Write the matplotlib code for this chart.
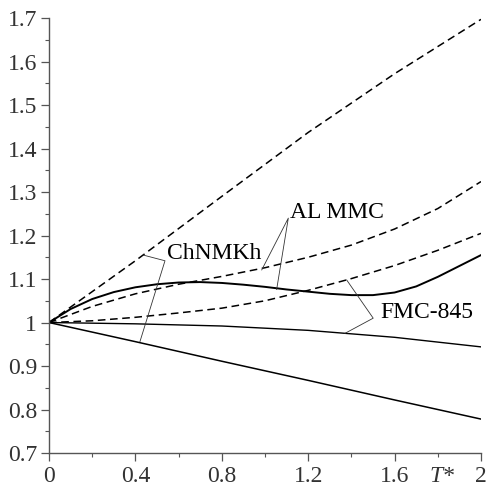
import matplotlib
matplotlib.use("Agg")
import matplotlib.pyplot as plt
from matplotlib.ticker import MultipleLocator

FONT = "Liberation Serif"
plt.rcParams["font.family"] = [FONT, "DejaVu Serif"]

# horni carkovana (ChNMKh)
x_top = [0, 0.4, 0.8, 1.2, 1.6, 2.0]
y_top = [1.0, 1.142, 1.290, 1.437, 1.572, 1.697]

# druha carkovana (AL MMC)
x_d = [0, 0.2, 0.4, 0.6, 0.8, 1.0, 1.2, 1.4, 1.6, 1.8, 2.0]
y_al = [1.0, 1.037, 1.066, 1.088, 1.106, 1.126, 1.150, 1.178, 1.215, 1.262, 1.324]
# treti carkovana (FMC-845)
y_fmc = [1.0, 1.004, 1.012, 1.022, 1.033, 1.050, 1.074, 1.101, 1.131, 1.166, 1.205]

# plna krivka s hrbolem (AL MMC)
x_s = [0, 0.1, 0.2, 0.3, 0.4, 0.5, 0.6, 0.7, 0.8, 0.9, 1.0,
       1.1, 1.2, 1.3, 1.4, 1.5, 1.6, 1.7, 1.8, 1.9, 2.0]
y_bump = [1.0, 1.031, 1.054, 1.070, 1.081, 1.088, 1.092, 1.093, 1.091, 1.087, 1.082,
          1.076, 1.071, 1.066, 1.063, 1.063, 1.069, 1.083, 1.105, 1.130, 1.155]

# tenka plna (FMC-845)
x_thin = [0, 0.4, 0.8, 1.2, 1.6, 2.0]
y_thin = [1.0, 0.997, 0.992, 0.982, 0.966, 0.944]

# spodni plna (ChNMKh)
x_low = [0, 0.4, 0.8, 1.2, 1.6, 2.0]
y_low = [1.0, 0.956, 0.911, 0.867, 0.822, 0.778]

xticks = [0, 0.4, 0.8, 1.2, 1.6, 2.0]
xlabels = ["0", "0.4", "0.8", "1.2", "1.6", "2"]
yticks = [0.7, 0.8, 0.9, 1.0, 1.1, 1.2, 1.3, 1.4, 1.5, 1.6, 1.7]
ylabels = ["0.7", "0.8", "0.9", "1", "1.1", "1.2", "1.3", "1.4", "1.5", "1.6", "1.7"]

fig = plt.figure(figsize=(4.89, 4.88), dpi=100)
ax = fig.add_axes([0.1002, 0.0717, 0.8834, 0.8913])

dash = (0, (5, 3))
ax.plot(x_top, y_top, color="black", lw=1.1, linestyle=dash)
ax.plot(x_d, y_al, color="black", lw=1.1, linestyle=dash)
ax.plot(x_d, y_fmc, color="black", lw=1.1, linestyle=dash)
ax.plot(x_s, y_bump, color="black", lw=1.4)
ax.plot(x_thin, y_thin, color="black", lw=1.0)
ax.plot(x_low, y_low, color="black", lw=1.1)

# odkazove cary k popiskum
lc = "#333333"
ax.plot([0.437, 0.537, 0.421], [1.155, 1.142, 0.956], color=lc, lw=0.6)
ax.plot([0.985, 1.108, 1.054], [1.121, 1.240, 1.076], color=lc, lw=0.6)
ax.plot([1.378, 1.501, 1.370], [1.098, 1.010, 0.975], color=lc, lw=0.6)

ax.text(0.545, 1.159, "ChNMKh", fontsize=17, va="center", ha="left", family=FONT)
ax.text(1.115, 1.252, "AL MMC", fontsize=17, va="center", ha="left", family=FONT)
ax.text(1.535, 1.022, "FMC-845", fontsize=17, va="center", ha="left", family=FONT)

ax.set_xlim(0, 2)
ax.set_ylim(0.7, 1.7)
ax.set_xticks(xticks)
ax.set_xticklabels(xlabels, family=FONT, fontsize=17, color="#333333")
ax.set_yticks(yticks)
ax.set_yticklabels(ylabels, family=FONT, fontsize=17, color="#333333")
ax.xaxis.set_minor_locator(MultipleLocator(0.2))
ax.yaxis.set_minor_locator(MultipleLocator(0.05))

for s in ["top", "right"]:
    ax.spines[s].set_visible(False)
for s in ["left", "bottom"]:
    ax.spines[s].set_color("#555555")
    ax.spines[s].set_linewidth(1.0)

ax.tick_params(which="major", direction="out", length=5.5, width=0.9, color="#555555", pad=3)
ax.tick_params(axis="x", which="major", pad=4)
ax.tick_params(which="minor", direction="out", length=3, width=0.8, color="#555555")

ax.annotate("T*", xy=(1.82, 0), xycoords=("data", "axes fraction"),
            xytext=(0, -9.5), textcoords="offset points", fontsize=17,
            style="italic", family=FONT, color="#333333", ha="center", va="top")

fig.savefig("out.png", dpi=100, facecolor="white")
